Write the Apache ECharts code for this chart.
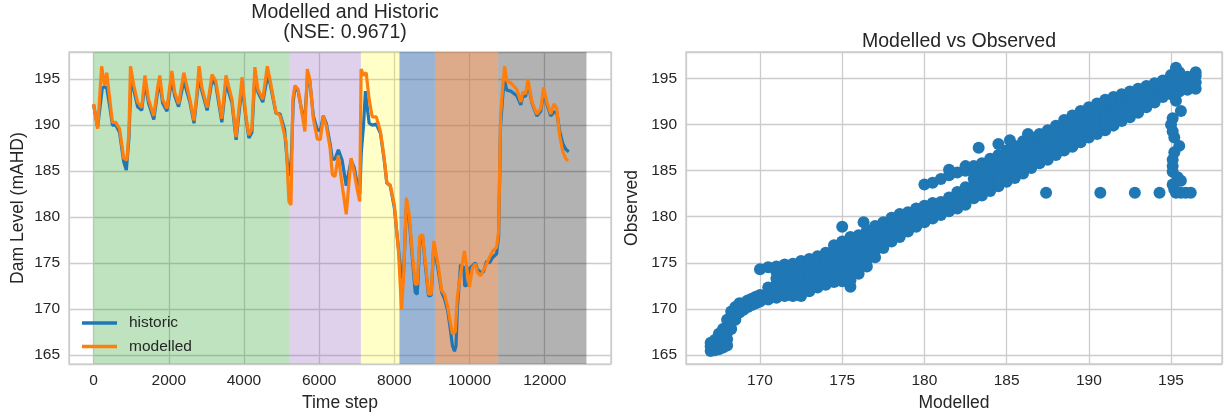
<!DOCTYPE html>
<html>
<head>
<meta charset="utf-8">
<title>Modelled and Historic</title>
<script src="https://cdn.jsdelivr.net/npm/echarts@6/dist/echarts.min.js"></script>
<style>
html, body { margin: 0; padding: 0; background: #fff; }
#chart { width: 1225px; height: 417px; }
</style>
</head>
<body>
<div id="chart"></div>
<script>
// [time step, dam level]
var historic = [
    [0, 192.2], [107, 189.8], [160, 189.6], [230, 194.0], [290, 194.2], [350, 194.0], [430, 192.0],
    [500, 190.0], [590, 190.0], [690, 189.2], [800, 186.0], [870, 185.1], [940, 188.6], [990, 194.6],
    [1070, 193.8], [1170, 192.0], [1280, 191.6], [1365, 194.6], [1460, 192.4], [1600, 190.6],
    [1710, 193.8], [1760, 194.6], [1835, 192.4], [1950, 191.5], [2080, 195.0], [2155, 193.2],
    [2260, 192.0], [2400, 194.8], [2560, 192.5], [2670, 190.2], [2740, 192.8], [2810, 195.3],
    [2880, 193.7], [3020, 191.6], [3150, 194.9], [3250, 194.4], [3410, 190.3], [3520, 194.6],
    [3680, 192.4], [3790, 188.4], [3840, 188.6], [3950, 194.3], [4050, 190.8], [4130, 188.6],
    [4210, 189.2], [4290, 195.4], [4370, 193.6], [4500, 192.5], [4620, 195.2], [4690, 194.6],
    [4850, 191.3], [4960, 191.2], [5080, 189.5], [5150, 186.0], [5210, 184.5], [5260, 186.5],
    [5310, 192.6], [5355, 194.0], [5440, 193.7], [5545, 191.4], [5620, 190.9], [5690, 195.2],
    [5750, 194.8], [5845, 191.0], [5950, 189.5], [6030, 189.4], [6110, 191.0], [6190, 190.2],
    [6290, 188.0], [6350, 186.3], [6420, 186.3], [6510, 187.3], [6610, 186.2], [6720, 183.4],
    [6770, 183.5], [6850, 186.2], [6930, 185.4], [7020, 183.5], [7080, 182.5], [7120, 187.0],
    [7180, 190.0], [7230, 193.7], [7290, 191.5], [7330, 190.2], [7410, 190.0], [7520, 190.1],
    [7630, 189.1], [7730, 186.2], [7800, 183.7], [7890, 183.4], [8000, 181.0], [8110, 176.5],
    [8190, 173.3], [8245, 174.0], [8320, 181.0], [8395, 179.8], [8480, 175.5], [8555, 171.8],
    [8610, 171.6], [8675, 177.2], [8750, 177.8], [8830, 174.5], [8910, 171.4], [8980, 171.5],
    [9050, 177.0], [9100, 177.2], [9175, 174.0], [9260, 171.8], [9335, 171.1], [9420, 169.8],
    [9495, 167.6], [9545, 166.0], [9600, 165.4], [9640, 166.0], [9675, 170.0], [9760, 174.8],
    [9850, 174.5], [9870, 172.5], [9950, 172.6], [9995, 174.4], [10080, 174.7], [10155, 175.0],
    [10210, 174.3], [10295, 174.0], [10370, 174.0], [10455, 175.2], [10530, 175.0], [10615, 175.6],
    [10720, 176.0], [10775, 178.0], [10825, 190.0], [10890, 193.5], [10935, 194.8], [10990, 193.8],
    [11095, 193.7], [11255, 193.2], [11365, 192.2], [11415, 193.2], [11490, 193.1], [11555, 194.6],
    [11660, 192.4], [11790, 191.0], [11895, 191.5], [11970, 193.6], [12055, 192.3], [12160, 191.0],
    [12245, 191.4], [12320, 191.4], [12395, 189.4], [12480, 188.0], [12555, 187.4], [12640, 187.1]
]
var modelled = [
    [0, 192.3], [107, 189.6], [160, 189.4], [213, 196.4], [290, 194.3], [350, 195.7], [430, 192.8],
    [500, 190.3], [590, 190.3], [690, 189.6], [800, 186.4], [885, 186.2], [940, 189.3], [980, 196.4],
    [1070, 194.3], [1170, 192.5], [1280, 191.9], [1365, 195.4], [1460, 192.8], [1600, 191.0],
    [1710, 194.3], [1760, 195.4], [1835, 192.8], [1950, 191.8], [2080, 195.9], [2155, 193.6],
    [2260, 192.3], [2400, 195.7], [2560, 192.8], [2670, 190.5], [2740, 193.2], [2805, 196.4],
    [2880, 194.1], [3020, 191.9], [3150, 195.5], [3250, 194.8], [3410, 190.7], [3520, 195.4],
    [3680, 192.8], [3790, 188.7], [3840, 188.9], [3950, 195.2], [4050, 191.0], [4130, 188.9],
    [4210, 189.6], [4290, 196.3], [4370, 193.9], [4500, 192.8], [4620, 196.4], [4690, 195.0],
    [4850, 191.4], [4960, 191.0], [5120, 188.2], [5195, 181.7], [5250, 181.3], [5300, 192.8],
    [5355, 194.3], [5440, 193.9], [5545, 191.2], [5620, 189.3], [5685, 196.1], [5750, 195.0],
    [5845, 190.7], [5950, 188.5], [6030, 188.4], [6110, 191.0], [6190, 189.9], [6290, 187.5],
    [6350, 184.6], [6420, 184.4], [6510, 186.7], [6610, 183.5], [6720, 180.3], [6770, 180.1],
    [6850, 186.4], [6930, 184.9], [7020, 182.8], [7080, 181.7], [7115, 196.1], [7180, 195.4],
    [7250, 195.7], [7330, 192.8], [7410, 190.9], [7520, 190.9], [7630, 189.3], [7730, 186.4],
    [7800, 183.7], [7890, 183.5], [8000, 181.3], [8110, 176.3], [8190, 170.0], [8245, 173.4],
    [8320, 182.1], [8395, 180.3], [8480, 176.0], [8555, 172.7], [8610, 172.7], [8675, 177.9],
    [8750, 178.1], [8830, 174.9], [8910, 171.6], [8980, 171.6], [9050, 177.4], [9100, 177.4],
    [9175, 174.5], [9260, 172.0], [9335, 171.6], [9420, 170.2], [9495, 168.4], [9545, 167.3],
    [9620, 167.5], [9675, 171.3], [9760, 173.8], [9865, 176.3], [9950, 173.8], [9995, 172.4],
    [10080, 174.5], [10155, 174.9], [10210, 174.0], [10295, 173.6], [10370, 174.2], [10455, 174.9],
    [10530, 175.6], [10615, 176.3], [10720, 176.7], [10775, 178.5], [10825, 191.0], [10890, 194.6],
    [10935, 196.4], [10990, 194.8], [11095, 194.6], [11255, 193.9], [11365, 192.5], [11415, 193.6],
    [11490, 193.4], [11555, 195.0], [11660, 192.5], [11790, 191.2], [11895, 191.8], [11970, 194.1],
    [12055, 192.5], [12160, 191.2], [12245, 192.3], [12320, 191.8], [12395, 188.9], [12480, 187.1],
    [12555, 186.4], [12620, 186.1]
]

// shaded periods (time step edges) and their fills
var spanEdges = [0, 5200, 7110, 8135, 9080, 10760, 13110]
var spanColors = [
    'rgba(44,160,44,0.3)',
    'rgba(148,103,189,0.3)',
    'rgba(255,255,0,0.22)',
    'rgba(71,119,179,0.55)',
    'rgba(198,113,60,0.6)',
    'rgba(0,0,0,0.3)'
]

// modelled vs observed: each row is [modelled, observed, observed, ...]
var scatterCols = [
    [167.0, 165.4, 165.9, 166.3],
    [167.25, 165.5, 166.0, 166.6],
    [167.5, 165.6, 166.2, 166.8, 167.3],
    [167.75, 165.8, 166.5, 167.2, 167.8],
    [168.0, 166.0, 166.7, 167.4, 168.1, 168.8],
    [168.25, 167.8, 168.5, 169.2, 169.7],
    [168.5, 168.8, 169.5, 170.2],
    [168.75, 169.6, 170.2, 170.6],
    [169.0, 169.9, 170.6],
    [169.25, 170.2, 170.9],
    [169.5, 170.4, 171.1],
    [169.75, 170.6, 171.3],
    [170.0, 170.8, 171.5, 174.3],
    [170.5, 171.0, 171.7, 172.3, 174.5],
    [171.0, 171.2, 171.9, 172.6, 173.3, 174.0, 174.6],
    [171.5, 171.4, 172.1, 172.8, 173.5, 174.2, 174.8],
    [172.0, 171.4, 172.1, 172.8, 173.5, 174.2, 174.9],
    [172.5, 171.4, 172.1, 172.8, 173.5, 174.2, 174.9, 175.2],
    [173.0, 171.9, 172.6, 173.3, 174.0, 174.7, 175.4],
    [173.5, 172.3, 173.0, 173.7, 174.4, 175.1, 175.7],
    [174.0, 172.6, 173.3, 174.0, 174.7, 175.4, 176.1],
    [174.5, 172.9, 173.6, 174.3, 175.0, 175.7, 176.4, 176.9],
    [175.0, 173.0, 173.7, 174.4, 175.1, 175.8, 176.5, 177.3],
    [175.5, 172.4, 173.1, 173.8, 174.5, 175.2, 175.9, 176.6, 177.3, 177.8],
    [176.0, 173.8, 174.5, 175.2, 175.9, 176.6, 177.3, 178.0],
    [176.5, 174.6, 175.3, 176.0, 176.7, 177.4, 178.1, 178.5],
    [177.0, 175.6, 176.3, 177.0, 177.7, 178.4, 179.0],
    [177.5, 176.6, 177.3, 178.0, 178.7, 179.4],
    [178.0, 177.3, 178.0, 178.7, 179.4, 179.9],
    [178.5, 177.8, 178.5, 179.2, 179.8, 180.3],
    [179.0, 178.4, 179.1, 179.8, 180.5],
    [179.5, 178.9, 179.6, 180.3, 180.9],
    [180.0, 179.4, 180.1, 180.8, 181.2, 183.5],
    [180.5, 179.8, 180.5, 181.2, 181.5, 183.7],
    [181.0, 180.2, 180.9, 181.6, 184.1],
    [181.5, 180.6, 181.3, 182.1, 184.5, 185.1],
    [182.0, 180.9, 181.6, 182.3, 182.7, 184.8],
    [182.5, 181.3, 182.0, 182.7, 183.2, 185.0, 185.5],
    [183.0, 182.0, 182.7, 183.4, 184.1, 184.8, 185.5],
    [183.5, 182.3, 183.0, 183.7, 184.4, 185.1, 185.8],
    [184.0, 182.8, 183.5, 184.2, 184.9, 185.6, 186.3],
    [184.5, 183.3, 184.0, 184.7, 185.4, 186.1, 186.7],
    [185.0, 183.8, 184.5, 185.2, 185.9, 186.6, 187.2],
    [185.5, 184.2, 184.9, 185.6, 186.3, 187.0, 187.7],
    [186.0, 184.7, 185.4, 186.1, 186.8, 187.5, 188.2],
    [186.5, 185.3, 186.0, 186.7, 187.4, 188.1, 188.6],
    [187.0, 185.8, 186.5, 187.2, 187.9, 188.6, 189.0],
    [187.5, 186.2, 186.9, 187.6, 188.3, 189.0, 189.4],
    [188.0, 186.7, 187.4, 188.1, 188.8, 189.5, 189.9],
    [188.5, 187.2, 187.9, 188.6, 189.3, 190.0, 190.5],
    [189.0, 187.6, 188.3, 189.0, 189.7, 190.4, 191.0],
    [189.5, 188.1, 188.8, 189.5, 190.2, 190.9, 191.5],
    [190.0, 188.6, 189.3, 190.0, 190.7, 191.4, 191.9],
    [190.5, 189.0, 189.7, 190.4, 191.1, 191.8, 192.3],
    [191.0, 189.4, 190.1, 190.8, 191.5, 192.2, 192.7],
    [191.5, 189.9, 190.6, 191.3, 192.0, 192.6, 193.0],
    [192.0, 190.4, 191.1, 191.8, 192.5, 193.0, 193.3],
    [192.5, 190.8, 191.5, 192.2, 192.9, 193.6],
    [193.0, 191.3, 192.0, 192.7, 193.4, 193.9],
    [193.5, 191.9, 192.6, 193.3, 194.0, 194.2],
    [194.0, 192.4, 193.1, 193.8, 194.5],
    [194.5, 193.0, 193.7, 194.3, 194.8],
    [195.0, 193.3, 194.0, 194.7, 195.4],
    [195.5, 193.6, 194.3, 195.0, 195.7],
    [196.0, 193.8, 194.5, 195.2],
    [196.5, 193.9, 194.6, 195.3]
]
// stray points off the main band
var scatterExtra = [
    [175.0, 178.9], [176.3, 179.4], [183.3, 187.5], [184.5, 187.9], [185.2, 188.3], [186.3, 189.0],
    [187.4, 182.6], [190.7, 182.6], [192.8, 182.6], [194.3, 182.6],
    [195.3, 196.2], [196.5, 195.7],
    [195.3, 192.6], [195.6, 191.5], [195.1, 190.7], [195.0, 190.0], [195.1, 189.3], [195.2, 188.6],
    [195.5, 187.7], [195.2, 187.0], [195.1, 186.2], [195.1, 185.5], [195.1, 184.9], [195.4, 184.3],
    [195.6, 183.9], [195.1, 183.5], [195.2, 183.0], [195.3, 182.6], [195.6, 182.6], [195.9, 182.6],
    [196.2, 182.6]
]

var textColor = '#262626'
var gridColor = '#cccccc'
var fontFamily = 'Liberation Sans, Arial, sans-serif'

var scatterData = []
scatterCols.forEach(function (col) {
    for (var i = 1; i < col.length; i++) {
        scatterData.push([col[0], col[i]])
    }
})
scatterExtra.forEach(function (p) {
    scatterData.push(p)
})

var spanAreas = []
for (var i = 0; i < spanColors.length; i++) {
    spanAreas.push([
        { xAxis: spanEdges[i], itemStyle: { color: spanColors[i] } },
        { xAxis: spanEdges[i + 1] }
    ])
}

function valueAxis(gridIndex, min, max, name, nameGap) {
    return {
        type: 'value',
        gridIndex: gridIndex,
        min: min,
        max: max,
        splitNumber: 7,
        name: name,
        nameLocation: 'middle',
        nameGap: nameGap,
        nameTextStyle: { fontSize: 17.5, color: textColor, fontFamily: fontFamily },
        axisLine: { show: false },
        axisTick: { show: false },
        axisLabel: {
            fontSize: 15.5,
            color: textColor,
            fontFamily: fontFamily,
            margin: 9,
            showMinLabel: false,
            showMaxLabel: false,
            formatter: function (v) { return String(v) }
        },
        splitLine: { lineStyle: { color: gridColor, width: 1.3 } }
    }
}

var chart = echarts.init(document.getElementById('chart'))
chart.setOption({
    animation: false,
    backgroundColor: '#ffffff',
    title: [
        {
            text: 'Modelled and Historic\n(NSE: 0.9671)',
            left: 340,
            top: -2,
            textAlign: 'center',
            textStyle: { fontSize: 19.5, fontWeight: 'normal', color: textColor, fontFamily: fontFamily, lineHeight: 20 }
        },
        {
            text: 'Modelled vs Observed',
            left: 954,
            top: 27,
            textAlign: 'center',
            textStyle: { fontSize: 19.5, fontWeight: 'normal', color: textColor, fontFamily: fontFamily }
        }
    ],
    legend: {
        data: [
            { name: 'historic', icon: 'rect' },
            { name: 'modelled', icon: 'rect' }
        ],
        orient: 'vertical',
        left: 77,
        top: 309,
        itemWidth: 35,
        itemHeight: 3.5,
        itemGap: 5.5,
        textStyle: { fontSize: 15.5, color: textColor, fontFamily: fontFamily, lineHeight: 18, padding: [0, 0, 0, 7] }
    },
    grid: [
        { left: 69, top: 52, width: 542, height: 315, show: true, borderColor: gridColor, borderWidth: 1.3, backgroundColor: 'transparent' },
        { left: 686, top: 52, width: 536, height: 315, show: true, borderColor: gridColor, borderWidth: 1.3, backgroundColor: 'transparent' }
    ],
    xAxis: [
        valueAxis(0, -655, 13763, 'Time step', 27),
        valueAxis(1, 165.5, 198.1, 'Modelled', 30)
    ],
    yAxis: [
        valueAxis(0, 164.0, 197.95, 'Dam Level (mAHD)', 42),
        valueAxis(1, 164.0, 197.9, 'Observed', 45)
    ],
    series: [
        {
            name: 'historic',
            type: 'line',
            xAxisIndex: 0,
            yAxisIndex: 0,
            data: historic,
            symbol: 'none',
            color: '#1f77b4',
            lineStyle: { width: 3.2 },
            markArea: {
                silent: true,
                label: { show: false },
                data: spanAreas
            }
        },
        {
            name: 'modelled',
            type: 'line',
            xAxisIndex: 0,
            yAxisIndex: 0,
            data: modelled,
            symbol: 'none',
            color: '#ff7f0e',
            lineStyle: { width: 3.2 }
        },
        {
            name: 'observed',
            type: 'scatter',
            xAxisIndex: 1,
            yAxisIndex: 1,
            data: scatterData,
            symbolSize: 12,
            itemStyle: { color: '#1f77b4', opacity: 1 }
        }
    ]
})
</script>
</body>
</html>
